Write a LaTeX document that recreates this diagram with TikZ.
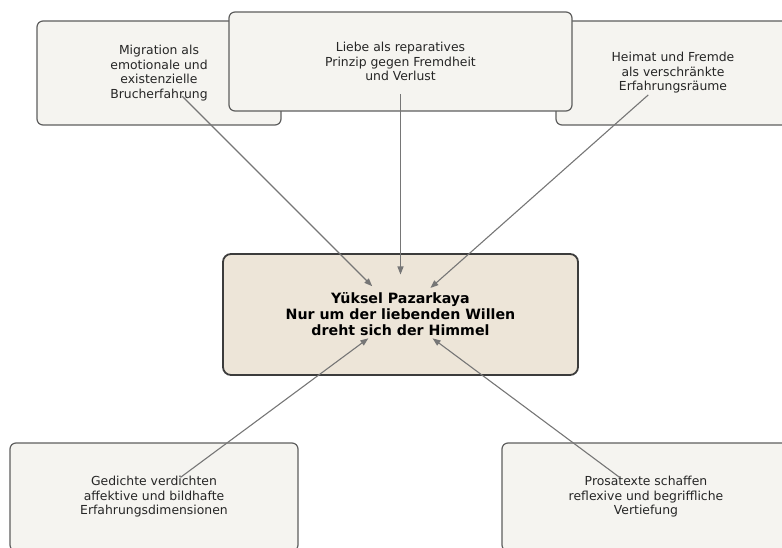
\documentclass[tikz,border=0pt]{standalone}
\usepackage{fontspec}
\setmainfont{DejaVu Sans}
\usetikzlibrary{arrows.meta}
\definecolor{boxfill}{HTML}{F5F4F0}
\definecolor{boxline}{HTML}{5E5E5E}
\definecolor{corefill}{HTML}{EDE5D8}
\definecolor{coreline}{HTML}{3C3C3C}
\definecolor{linkgray}{HTML}{767676}

\begin{document}
\begin{tikzpicture}
      [ x=1pt, y=-1pt
        , every node/.style={font=\fontsize{12.4}{14.5}\selectfont, text=black!85, align=center}
        , theme/.style={rectangle, rounded corners=6pt, draw=boxline, line width=1.2pt, fill=boxfill}
        , core/.style={rectangle, rounded corners=8pt, draw=coreline, line width=1.8pt, fill=corefill,
            font=\fontsize{14.2}{16}\selectfont\bfseries, text=black}
        , link/.style={draw=linkgray, line width=1.1pt, -{Triangle[length=8pt,width=6pt]},
            shorten <=33pt, shorten >=40pt}
      ]
      \useasboundingbox (0,0) rectangle (782,548);
      \clip (0,0) rectangle (782,548);

      \node (mig) [theme, minimum width=244pt, minimum height=104pt] at (159,73)
        {Migration als\\emotionale und\\existenzielle\\Brucherfahrung};
      \node (home) [theme, minimum width=234pt, minimum height=104pt] at (673,73)
        {Heimat und Fremde\\als verschränkte\\Erfahrungsräume};
      \node (love) [theme, minimum width=343pt, minimum height=99pt] at (400.5,61.5)
        {Liebe als reparatives\\Prinzip gegen Fremdheit\\und Verlust};

      \node (core) [core, minimum width=355pt, minimum height=121pt] at (400.5,314.5)
        {Yüksel Pazarkaya\\Nur um der liebenden Willen\\dreht sich der Himmel};

      \node (poem) [theme, minimum width=288pt, minimum height=108pt] at (154,497)
        {Gedichte verdichten\\affektive und bildhafte\\Erfahrungsdimensionen};
      \node (prose) [theme, minimum width=288pt, minimum height=108pt] at (646,497)
        {Prosatexte schaffen\\reflexive und begriffliche\\Vertiefung};

      \draw[link] (mig.center) -- (core.center);
      \draw[link] (love.center) -- (core.center);
      \draw[link] (home.center) -- (core.center);
      \draw[link] (poem.center) -- (core.center);
      \draw[link] (prose.center) -- (core.center);

    \end{tikzpicture}
\end{document}
